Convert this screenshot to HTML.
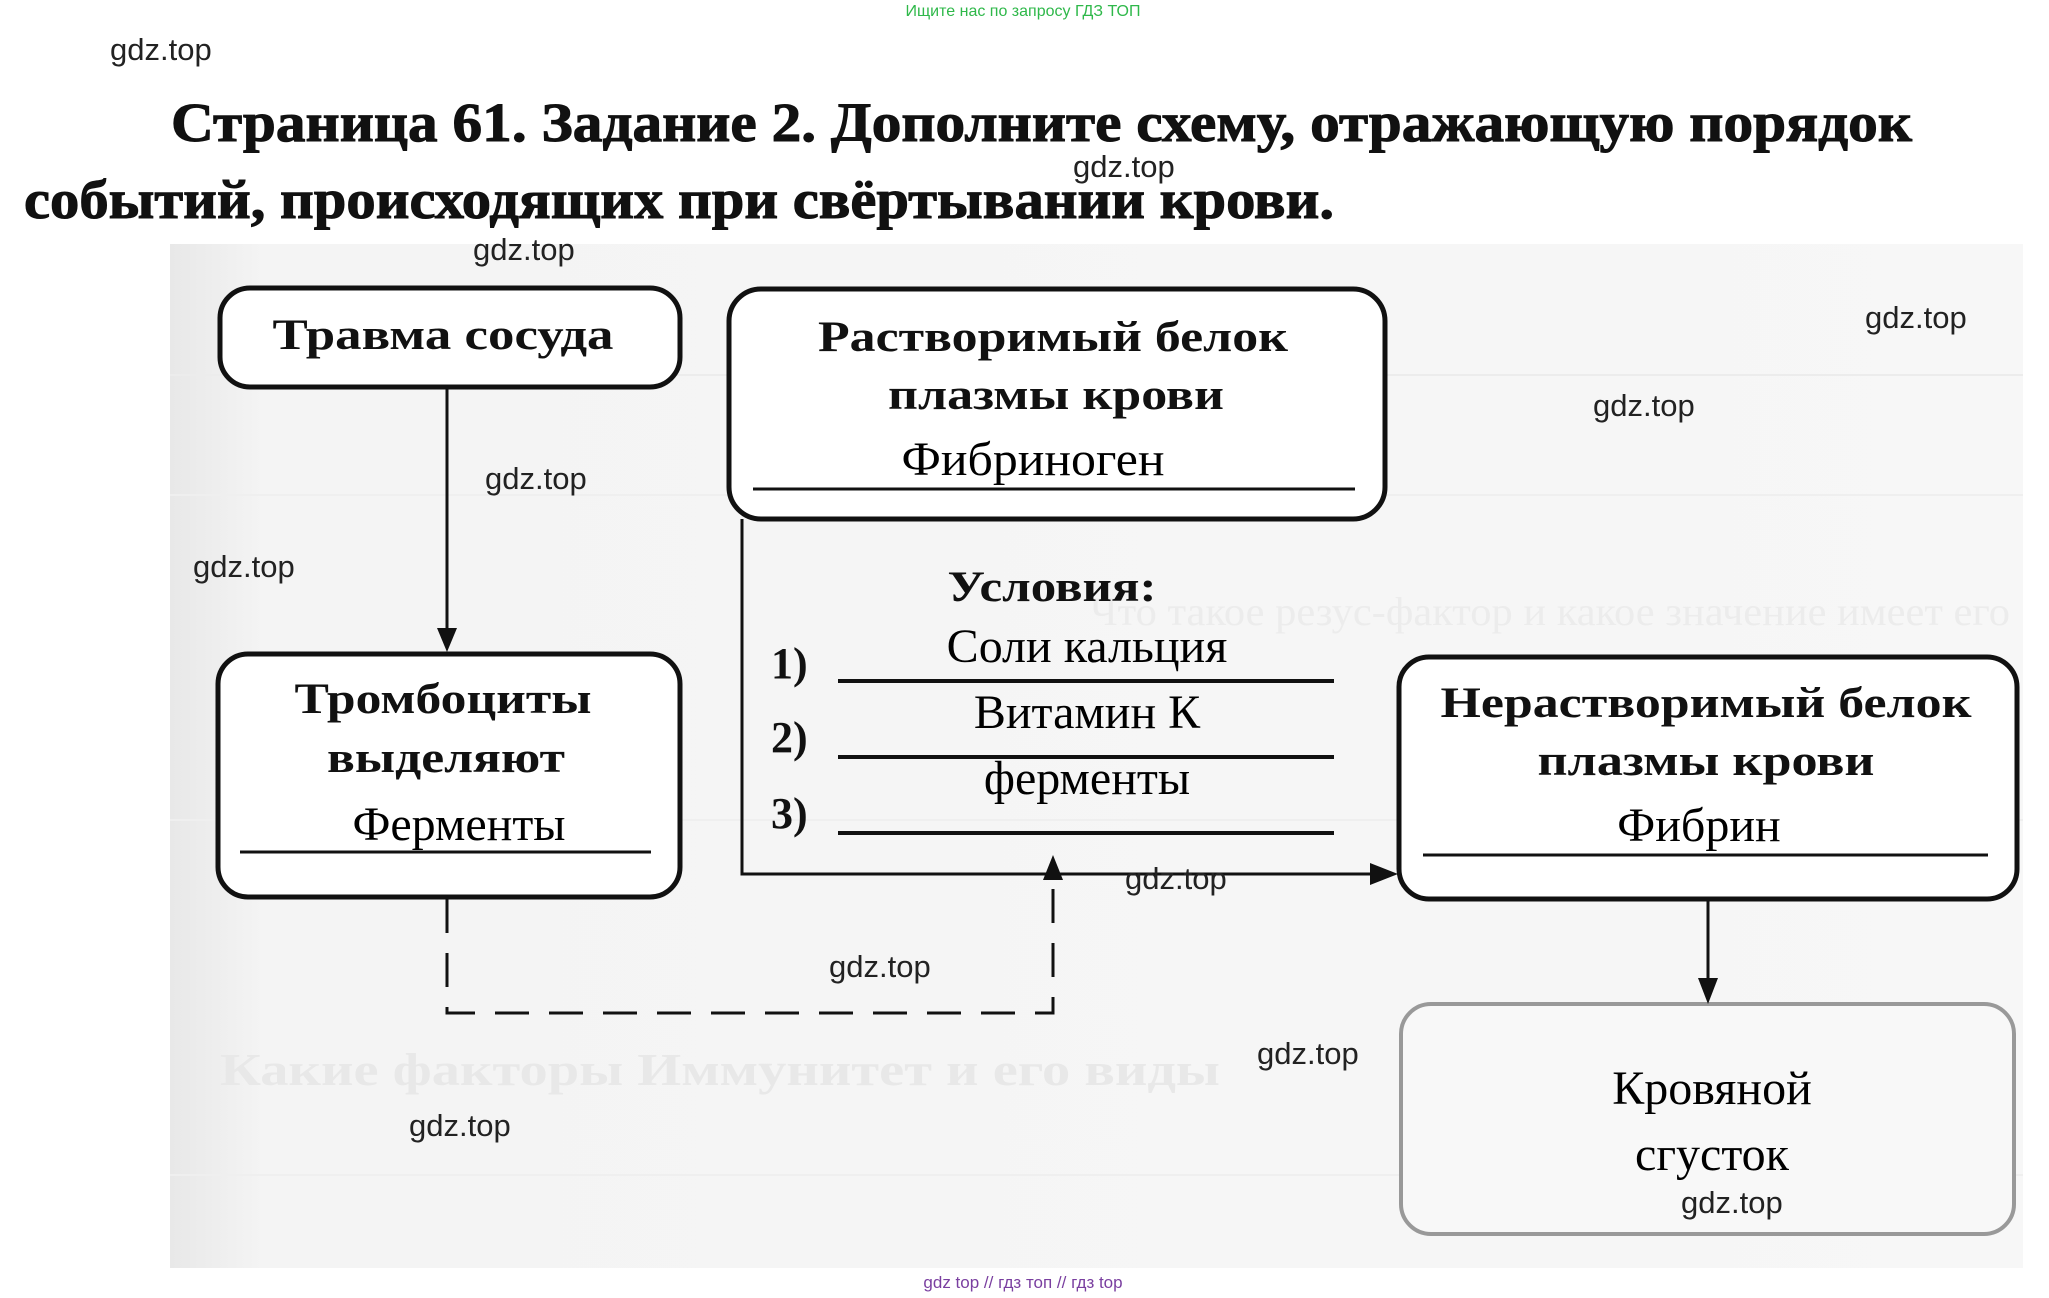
<!DOCTYPE html>
<html><head><meta charset="utf-8"><style>
html,body{margin:0;padding:0;background:#fff;}
svg{display:block}
.t{font-family:"Liberation Serif","DejaVu Serif",serif;font-weight:bold;fill:#111}
.h{font-family:"Liberation Serif","DejaVu Serif",serif;fill:#000}
.w{font-family:"Liberation Sans",Arial,sans-serif;font-size:31px;fill:#222}
.bx{fill:#fff;stroke:#111;stroke-width:5}
</style></head><body>
<svg width="2049" height="1298" viewBox="0 0 2049 1298" xmlns="http://www.w3.org/2000/svg">
<defs>
<linearGradient id="bg" x1="0" x2="1" y1="0" y2="0">
<stop offset="0" stop-color="#e8e8e8"/><stop offset="0.05" stop-color="#f4f4f4"/><stop offset="1" stop-color="#f7f7f7"/>
</linearGradient>
</defs>
<rect width="2049" height="1298" fill="#fff"/>
<text x="1023" y="16" text-anchor="middle" font-family="Liberation Sans,sans-serif" font-size="16" fill="#2fb84a">Ищите нас по запросу ГДЗ ТОП</text>
<text class="t" x="171" y="141" font-size="55" textLength="1741" lengthAdjust="spacingAndGlyphs" stroke="#111" stroke-width="1">Страница 61. Задание 2. Дополните схему, отражающую порядок</text>
<text class="t" x="24" y="218" font-size="55" textLength="1310" lengthAdjust="spacingAndGlyphs" stroke="#111" stroke-width="1">событий, происходящих при свёртывании крови.</text>
<rect x="170" y="244" width="1853" height="1024" fill="url(#bg)"/>
<text x="1090" y="625" font-family="Liberation Serif,serif" font-size="40" textLength="920" lengthAdjust="spacingAndGlyphs" fill="#ececec">Что такое резус-фактор и какое значение имеет его</text>
<text x="220" y="1085" font-family="Liberation Serif,serif" font-size="46" font-weight="bold" fill="#e8e8e8" textLength="1000" lengthAdjust="spacingAndGlyphs">Какие факторы  Иммунитет и его виды</text>
<line x1="170" y1="375" x2="2023" y2="375" stroke="#ececec" stroke-width="2"/>
<line x1="170" y1="495" x2="2023" y2="495" stroke="#efefef" stroke-width="2"/>
<line x1="170" y1="820" x2="2023" y2="820" stroke="#efefef" stroke-width="2"/>
<line x1="170" y1="1175" x2="2023" y2="1175" stroke="#efefef" stroke-width="2"/>

<rect class="bx" x="220" y="288" width="460" height="99" rx="30"/>
<text class="t" x="443" y="349" font-size="43" text-anchor="middle" textLength="341" lengthAdjust="spacingAndGlyphs">Травма сосуда</text>

<rect class="bx" x="729" y="289" width="656" height="230" rx="32"/>
<text class="t" x="1053" y="351" font-size="43" text-anchor="middle" textLength="470" lengthAdjust="spacingAndGlyphs">Растворимый белок</text>
<text class="t" x="1056" y="409" font-size="43" text-anchor="middle" textLength="336" lengthAdjust="spacingAndGlyphs">плазмы крови</text>
<text class="h" x="1033" y="475" font-size="48" text-anchor="middle" textLength="263" lengthAdjust="spacingAndGlyphs">Фибриноген</text>
<line x1="753" y1="489" x2="1355" y2="489" stroke="#111" stroke-width="3"/>

<rect class="bx" x="218" y="654" width="462" height="243" rx="30"/>
<text class="t" x="443" y="713" font-size="43" text-anchor="middle" textLength="297" lengthAdjust="spacingAndGlyphs">Тромбоциты</text>
<text class="t" x="446" y="772" font-size="43" text-anchor="middle" textLength="238" lengthAdjust="spacingAndGlyphs">выделяют</text>
<text class="h" x="459" y="840" font-size="48" text-anchor="middle">Ферменты</text>
<line x1="240" y1="852" x2="651" y2="852" stroke="#111" stroke-width="3"/>

<rect class="bx" x="1399" y="657" width="618" height="242" rx="30"/>
<text class="t" x="1706" y="717" font-size="43" text-anchor="middle" textLength="531" lengthAdjust="spacingAndGlyphs">Нерастворимый белок</text>
<text class="t" x="1706" y="775" font-size="43" text-anchor="middle" textLength="337" lengthAdjust="spacingAndGlyphs">плазмы крови</text>
<text class="h" x="1699" y="841" font-size="48" text-anchor="middle">Фибрин</text>
<line x1="1423" y1="855" x2="1988" y2="855" stroke="#111" stroke-width="3"/>

<rect x="1401" y="1004" width="613" height="230" rx="30" fill="#f8f8f8" stroke="#999" stroke-width="4"/>
<text class="h" x="1712" y="1104" font-size="48" text-anchor="middle">Кровяной</text>
<text class="h" x="1712" y="1170" font-size="48" text-anchor="middle">сгусток</text>

<text class="t" x="1052" y="601" font-size="43" text-anchor="middle" textLength="209" lengthAdjust="spacingAndGlyphs">Условия:</text>
<text class="t" x="771" y="678" font-size="44">1)</text>
<text class="t" x="771" y="752" font-size="44">2)</text>
<text class="t" x="771" y="828" font-size="44">3)</text>
<g stroke="#111" stroke-width="4">
<line x1="838" y1="681" x2="1334" y2="681"/>
<line x1="838" y1="757" x2="1334" y2="757"/>
<line x1="838" y1="833" x2="1334" y2="833"/>
</g>
<text class="h" x="1087" y="662" font-size="48" text-anchor="middle">Соли кальция</text>
<text class="h" x="1087" y="728" font-size="48" text-anchor="middle">Витамин К</text>
<text class="h" x="1087" y="794" font-size="48" text-anchor="middle">ферменты</text>

<g stroke="#111" stroke-width="3" fill="none">
<line x1="447" y1="387" x2="447" y2="640"/>
<polyline points="742,519 742,874 1385,874"/>
<line x1="1708" y1="899" x2="1708" y2="990"/>
<polyline points="447,899 447,1013 1053,1013 1053,870" stroke-dasharray="34,20"/>
</g>
<g fill="#111">
<polygon points="437,628 457,628 447,652"/>
<polygon points="1370,863 1370,885 1398,874"/>
<polygon points="1698,978 1718,978 1708,1004"/>
<polygon points="1043,880 1063,880 1053,855"/>
</g>

<text class="w" x="110" y="60">gdz.top</text>
<text class="w" x="1073" y="177">gdz.top</text>
<text class="w" x="473" y="260">gdz.top</text>
<text class="w" x="1865" y="328">gdz.top</text>
<text class="w" x="1593" y="416">gdz.top</text>
<text class="w" x="485" y="489">gdz.top</text>
<text class="w" x="193" y="577">gdz.top</text>
<text class="w" x="1125" y="889">gdz.top</text>
<text class="w" x="829" y="977">gdz.top</text>
<text class="w" x="1257" y="1064">gdz.top</text>
<text class="w" x="409" y="1136">gdz.top</text>
<text class="w" x="1681" y="1213">gdz.top</text>
<text x="1023" y="1288" text-anchor="middle" font-family="Liberation Sans,sans-serif" font-size="17" fill="#7a3fa0">gdz top  //  гдз топ  //  гдз top</text>
</svg>
</body></html>
